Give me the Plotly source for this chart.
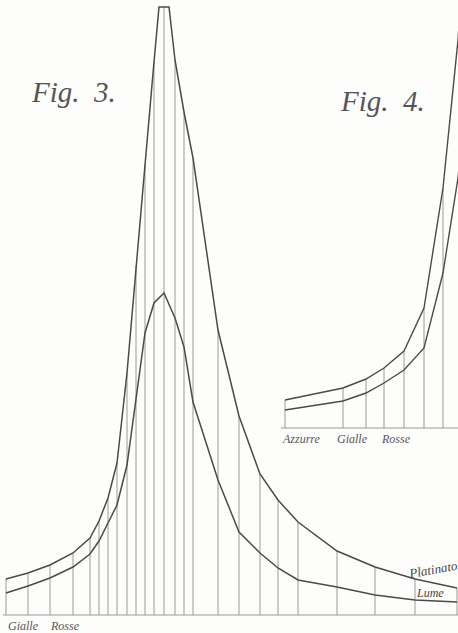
import plotly.graph_objects as go

# ---------------- Fig. 3 data (x position along spectrum, heights above base) ----------------
fig3_x = [6, 28, 50, 73, 90, 99, 108, 117, 127, 136, 145, 154, 164, 175, 184, 193,
          218, 239, 260, 278, 298, 337, 375, 415, 457]
fig3_upper = [36, 42, 50, 62, 77, 94, 117, 152, 242, 350, 450, 553, 608, 555, 503, 457,
              285, 199, 141, 115, 93, 64, 48, 36, 27]
fig3_lower = [22, 29, 37, 48, 61, 74, 92, 110, 150, 218, 282, 312, 322, 297, 268, 213,
              135, 83, 62, 47, 35, 28, 20, 15, 13]
# flat cap of the upper curve at the summit
fig3_cap_x = [159, 169]
fig3_cap_y = [608, 608]
fig3_labels = ["Gialle", "Rosse"]
fig3_label_x = [23, 65]

# ---------------- Fig. 4 data ----------------
fig4_x = [285, 343, 366, 384, 404, 424, 443]
fig4_upper = [28, 40, 49, 60, 77, 120, 240]
fig4_lower = [18, 27, 35, 45, 58, 80, 155]
fig4_tail_x = [458, 462]
fig4_tail_upper = [388, 450]
fig4_tail_lower = [250, 290]
fig4_labels = ["Azzurre", "Gialle", "Rosse"]
fig4_label_x = [301, 352, 396]

CURVE = "#4a4a4a"
VERT = "#9a9a9a"
FONT = "Liberation Serif"

fig = go.Figure()


def verticals(xs, tops):
    vx, vy = [], []
    for x, t in zip(xs, tops):
        vx += [x, x, None]
        vy += [0, t, None]
    return vx, vy


# Fig. 3 verticals and base
vx, vy = verticals(fig3_x, fig3_upper)
fig.add_trace(go.Scatter(x=vx, y=vy, mode="lines", line=dict(color=VERT, width=1),
                         hoverinfo="skip", showlegend=False))
fig.add_trace(go.Scatter(x=[3, 458], y=[0, 0], mode="lines", line=dict(color=VERT, width=1),
                         hoverinfo="skip", showlegend=False))

# Fig. 3 upper curve with flat summit
ux, uy = [], []
for x, y in zip(fig3_x, fig3_upper):
    if x == 164:
        ux += fig3_cap_x
        uy += fig3_cap_y
    else:
        ux.append(x)
        uy.append(y)
fig.add_trace(go.Scatter(x=ux, y=uy, mode="lines", line=dict(color=CURVE, width=1.5),
                         hoverinfo="skip", showlegend=False))
fig.add_trace(go.Scatter(x=fig3_x, y=fig3_lower, mode="lines", line=dict(color=CURVE, width=1.5),
                         hoverinfo="skip", showlegend=False))

# Fig. 4 (own y axis)
vx, vy = verticals(fig4_x, fig4_upper)
fig.add_trace(go.Scatter(x=vx, y=vy, mode="lines", line=dict(color=VERT, width=1),
                         hoverinfo="skip", showlegend=False, yaxis="y2"))
fig.add_trace(go.Scatter(x=[281, 458], y=[0, 0], mode="lines", line=dict(color=VERT, width=1),
                         hoverinfo="skip", showlegend=False, yaxis="y2"))
fig.add_trace(go.Scatter(x=fig4_x + fig4_tail_x, y=fig4_upper + fig4_tail_upper, mode="lines",
                         line=dict(color=CURVE, width=1.4), hoverinfo="skip",
                         showlegend=False, yaxis="y2"))
fig.add_trace(go.Scatter(x=fig4_x + fig4_tail_x, y=fig4_lower + fig4_tail_lower, mode="lines",
                         line=dict(color=CURVE, width=1.4), hoverinfo="skip",
                         showlegend=False, yaxis="y2"))

ann = []
for t, x in zip(fig3_labels, fig3_label_x):
    ann.append(dict(x=x, y=-11, xref="x", yref="y", text="<i>" + t + "</i>", showarrow=False,
                    font=dict(family=FONT, size=12, color="#555")))
for t, x in zip(fig4_labels, fig4_label_x):
    ann.append(dict(x=x, y=-11, xref="x", yref="y2", text="<i>" + t + "</i>", showarrow=False,
                    font=dict(family=FONT, size=12, color="#555")))
ann.append(dict(x=73, y=523, xref="x", yref="y", text="<i>Fig.&nbsp; 3.</i>", showarrow=False,
                font=dict(family=FONT, size=29, color="#555")))
ann.append(dict(x=382, y=327, xref="x", yref="y2", text="<i>Fig.&nbsp; 4.</i>", showarrow=False,
                font=dict(family=FONT, size=29, color="#555")))
ann.append(dict(x=433, y=46, xref="x", yref="y", text="<i>Platinato</i>", showarrow=False,
                textangle=-10, font=dict(family=FONT, size=13, color="#444")))
ann.append(dict(x=430, y=22, xref="x", yref="y", text="<i>Lume</i>", showarrow=False,
                font=dict(family=FONT, size=12, color="#444")))

fig.update_layout(
    width=458, height=633,
    margin=dict(l=0, r=0, t=0, b=0),
    paper_bgcolor="#fdfdfb", plot_bgcolor="#fdfdfb",
    xaxis=dict(range=[0, 458], visible=False, fixedrange=True),
    yaxis=dict(range=[-18, 615], visible=False, fixedrange=True),
    yaxis2=dict(range=[-205, 428], visible=False, overlaying="y", fixedrange=True),
    annotations=ann,
    hovermode=False,
)

fig.write_html("out.html", config={"displayModeBar": False})

# remove the browser's default page margin so the figure fills the window exactly
with open("out.html", encoding="utf-8") as f:
    html = f.read()
html = html.replace("<body>", '<body style="margin:0;padding:0;overflow:hidden">', 1)
with open("out.html", "w", encoding="utf-8") as f:
    f.write(html)
